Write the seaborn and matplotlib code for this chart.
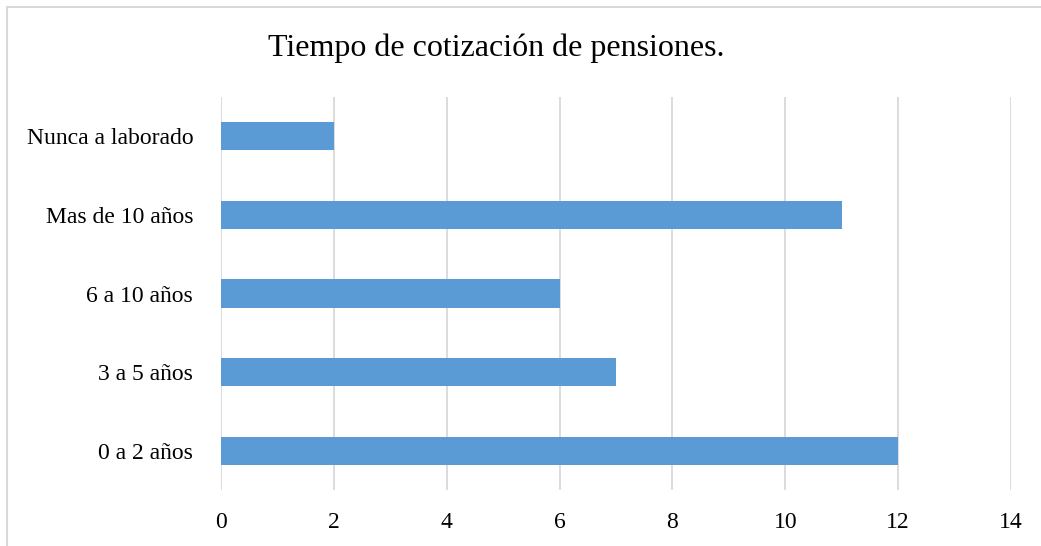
import pandas as pd
import seaborn as sns
import matplotlib.pyplot as plt
from matplotlib.patches import Rectangle

# Data
categorias = ["Nunca a laborado", "Mas de 10 años", "6 a 10 años", "3 a 5 años", "0 a 2 años"]
valores = [2, 11, 6, 7, 12]
ticks_x = [0, 2, 4, 6, 8, 10, 12, 14]

df = pd.DataFrame({"categoria": categorias, "valor": valores})

sns.set_style("white")
plt.rcParams['font.family'] = ['Liberation Serif', 'DejaVu Serif']
plt.rcParams['text.color'] = 'black'
plt.rcParams['xtick.color'] = 'black'
plt.rcParams['ytick.color'] = 'black'

fig = plt.figure(figsize=(10.41, 5.46), dpi=100)
ax = fig.add_axes([221/1041, 1 - 490/546, 790/1041, 393/546])

sns.barplot(data=df, x="valor", y="categoria", order=categorias, color="#5B9BD5",
            saturation=1, width=0.36, linewidth=0, ax=ax)

ax.set_xlim(0, 14)
ax.set_xticks(ticks_x)
ax.set_xticklabels([str(t) for t in ticks_x], fontsize=17)
ax.tick_params(axis='y', labelsize=17, length=0, pad=20)
ax.tick_params(axis='x', length=0, pad=16)
ax.xaxis.grid(True, color="#D9D9D9", linewidth=1.3)
ax.set_axisbelow(True)
for s in ax.spines.values():
    s.set_visible(False)
ax.set_xlabel("")
ax.set_ylabel("")

fig.text(496/1041, 1 - 48/546, "Tiempo de cotización de pensiones.", fontsize=23,
         ha="center", va="center")

# outer chart border (left and top only visible)
fig.patches.append(Rectangle((7/1041, -0.1), 1.2, 1.1 - 7/546, transform=fig.transFigure,
                             fill=False, edgecolor="#D9D9D9", linewidth=1.5))

fig.savefig("out.png", dpi=100)
